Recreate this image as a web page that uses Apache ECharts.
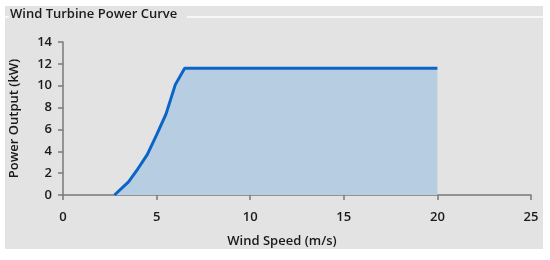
<!DOCTYPE html>
<html>
<head>
<meta charset="utf-8">
<script src="https://cdn.jsdelivr.net/npm/echarts@6/dist/echarts.min.js"></script>
<style>
  html, body { margin: 0; padding: 0; background: #ffffff; }
  #chart { width: 550px; height: 260px; }
</style>
</head>
<body>
<div id="chart"></div>
<script>
// wind speed (m/s) and power output (kW)
const windSpeed = [2.75, 3.5, 4, 4.5, 5, 5.5, 6, 6.5, 20]
const powerOutput = [0, 1.2, 2.4, 3.7, 5.5, 7.4, 10.1, 11.6, 11.6]
const xTicks = [0, 5, 10, 15, 20, 25]
const yTicks = [0, 2, 4, 6, 8, 10, 12, 14]

const font = '"Open Sans", "Noto Sans", sans-serif'
const chart = echarts.init(document.getElementById('chart'))

const option = {
  animation: false,
  backgroundColor: '#ffffff',
  graphic: [
    // panel
    { type: 'rect', shape: { x: 5, y: 6, width: 538, height: 243 }, style: { fill: '#e3e3e3' }, z: -10 },
    // group box border around the title
    { type: 'rect', shape: { x: 5, y: 16, width: 4, height: 2 }, style: { fill: '#f5f8fb' }, z: -9 },
    { type: 'rect', shape: { x: 187, y: 16, width: 356, height: 2 }, style: { fill: '#f5f8fb' }, z: -9 },
    {
      type: 'text', left: 10, top: 8,
      style: { text: 'Wind Turbine Power Curve', font: '600 13px ' + font, fill: '#1a1a1a' }
    }
  ],
  grid: { left: 60, right: 19, top: 42, bottom: 65 },
  xAxis: {
    type: 'value',
    min: xTicks[0],
    max: xTicks[xTicks.length - 1],
    interval: 5,
    name: 'Wind Speed (m/s)',
    nameLocation: 'middle',
    nameGap: 40,
    nameTextStyle: { fontFamily: font, fontSize: 13, fontWeight: 600, color: '#1a1a1a', padding: [0, 30, 0, 0] },
    axisLine: { lineStyle: { color: '#7a7a7a', width: 1.5 } },
    axisTick: { show: true, length: 5, lineStyle: { color: '#7a7a7a', width: 1.5 } },
    axisLabel: { margin: 16, fontFamily: font, fontSize: 13, fontWeight: 600, color: '#1a1a1a' },
    splitLine: { show: false }
  },
  yAxis: {
    type: 'value',
    min: yTicks[0],
    max: yTicks[yTicks.length - 1],
    interval: 2,
    name: 'Power Output (kW)',
    nameLocation: 'middle',
    nameGap: 42,
    nameTextStyle: { fontFamily: font, fontSize: 13, fontWeight: 600, color: '#1a1a1a' },
    axisLine: { show: true, lineStyle: { color: '#7a7a7a', width: 1.5 } },
    axisTick: { show: true, length: 5, lineStyle: { color: '#7a7a7a', width: 1.5 } },
    axisLabel: { margin: 11, fontFamily: font, fontSize: 13, fontWeight: 600, color: '#1a1a1a' },
    splitLine: { show: false }
  },
  series: [{
    type: 'line',
    data: windSpeed.map((w, i) => [w, powerOutput[i]]),
    showSymbol: false,
    lineStyle: { color: '#0b64c8', width: 3 },
    itemStyle: { color: '#0b64c8' },
    areaStyle: { color: '#b7cde2', opacity: 1 }
  }]
}

chart.setOption(option)
</script>
</body>
</html>
